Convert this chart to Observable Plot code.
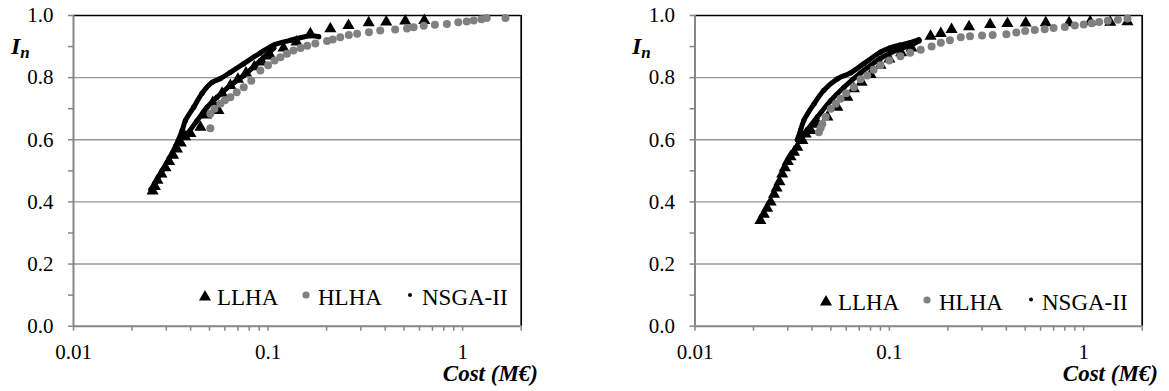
<!DOCTYPE html>
<html><head><meta charset="utf-8">
<script src="https://cdn.jsdelivr.net/npm/d3@7"></script>
<script src="https://cdn.jsdelivr.net/npm/@observablehq/plot@0.6"></script>
<style>
body{margin:0;background:#fff;}
#wrap{position:relative;width:1169px;height:391px;overflow:hidden;}
.panel{position:absolute;top:0;}
#overlay{position:absolute;left:0;top:0;pointer-events:none;}
</style></head>
<body><div id="wrap"></div>
<script>
// ---------- data ----------
const yTicks = [0,0.1,0.2,0.3,0.4,0.5,0.6,0.7,0.8,0.9,1.0];
const yGrid = [0.2,0.4,0.6,0.8];
const xTicks = [0.01,0.02,0.03,0.04,0.05,0.06,0.07,0.08,0.09,0.1,0.2,0.3,0.4,0.5,0.6,0.7,0.8,0.9,1,2];
const xLabelValues = [0.01,0.1,1];
const xLabelText = ["0.01","0.1","1"];
const seriesNames = ["LLHA","HLHA","NSGA-II"];

// Left panel
const llhaCostA = [0.0255,0.0262,0.027,0.0283,0.0297,0.031,0.0325,0.034,0.0356,0.0375,0.0399,0.0449,0.048,0.052,0.0556,0.058,0.064,0.070,0.077,0.085,0.093,0.103,0.120,0.140,0.165,0.209,0.259,0.329,0.405,0.507,0.635];
const llhaInA   = [0.435,0.45,0.47,0.49,0.51,0.53,0.55,0.57,0.59,0.61,0.62,0.64,0.68,0.72,0.694,0.75,0.775,0.795,0.815,0.835,0.85,0.87,0.895,0.915,0.941,0.957,0.968,0.977,0.979,0.982,0.984];
const hlhaCostA = [0.0505,0.0505,0.053,0.0569,0.060,0.064,0.069,0.075,0.082,0.0913,0.10,0.108,0.1157,0.125,0.135,0.147,0.159,0.175,0.201,0.215,0.235,0.26,0.287,0.33,0.377,0.45,0.518,0.56,0.631,0.72,0.83,0.95,1.05,1.14,1.25,1.33,1.66];
const hlhaInA   = [0.637,0.684,0.70,0.716,0.727,0.737,0.753,0.769,0.79,0.823,0.84,0.855,0.866,0.877,0.887,0.895,0.903,0.91,0.918,0.923,0.93,0.937,0.941,0.946,0.952,0.955,0.958,0.962,0.967,0.970,0.973,0.978,0.981,0.984,0.988,0.992,0.992];
const nsgaOuterCostA = [0.0250,0.0262,0.0285,0.031,0.0335,0.0362,0.0376,0.0415,0.0458,0.0516,0.0569,0.064,0.075,0.0913,0.107,0.130,0.165,0.182];
const nsgaOuterInA   = [0.44,0.46,0.50,0.54,0.58,0.63,0.662,0.705,0.75,0.785,0.797,0.817,0.845,0.88,0.905,0.92,0.935,0.932];
const nsgaInnerCostA = [0.0362,0.0376,0.0432,0.0486,0.0547,0.064,0.075,0.0913,0.107];
const nsgaInnerInA   = [0.61,0.614,0.662,0.705,0.737,0.775,0.807,0.855,0.895];

// Right panel
const llhaCostB = [0.0217,0.0226,0.0235,0.0245,0.0255,0.0263,0.0272,0.0281,0.029,0.030,0.031,0.0323,0.0336,0.0357,0.0371,0.0394,0.043,0.048,0.054,0.0608,0.0657,0.072,0.080,0.090,0.100,0.115,0.130,0.163,0.184,0.209,0.257,0.330,0.405,0.503,0.638,0.841,1.08,1.37,1.68];
const llhaInB   = [0.34,0.36,0.38,0.40,0.425,0.445,0.465,0.49,0.51,0.53,0.545,0.56,0.576,0.598,0.619,0.63,0.65,0.673,0.705,0.737,0.764,0.785,0.81,0.84,0.86,0.88,0.895,0.933,0.942,0.955,0.964,0.971,0.974,0.976,0.977,0.977,0.98,0.978,0.98];
const hlhaCostB = [0.0434,0.0443,0.0452,0.047,0.050,0.053,0.0561,0.060,0.0657,0.0711,0.077,0.083,0.090,0.100,0.114,0.128,0.145,0.165,0.184,0.205,0.233,0.26,0.30,0.34,0.40,0.45,0.50,0.56,0.63,0.70,0.80,0.90,1.0,1.1,1.2,1.33,1.5,1.68];
const hlhaInB   = [0.624,0.638,0.651,0.673,0.70,0.716,0.732,0.75,0.769,0.795,0.807,0.825,0.84,0.855,0.869,0.88,0.89,0.90,0.912,0.92,0.93,0.933,0.936,0.937,0.94,0.945,0.95,0.953,0.956,0.96,0.963,0.968,0.971,0.975,0.979,0.983,0.986,0.99];
const nsgaOuterCostB = [0.0336,0.0349,0.0363,0.041,0.046,0.054,0.063,0.074,0.09,0.10,0.114,0.128,0.142];
const nsgaOuterInB   = [0.600,0.630,0.662,0.716,0.759,0.796,0.815,0.845,0.882,0.895,0.905,0.913,0.922];
const nsgaInnerCostB = [0.0349,0.0426,0.0499,0.0584,0.0711,0.09,0.10,0.114,0.13,0.142];
const nsgaInnerInB   = [0.603,0.673,0.726,0.769,0.815,0.862,0.878,0.893,0.905,0.918];

// ---------- helpers ----------
const rows = (xs, ys) => xs.map((c, i) => ({cost: c, In: ys[i]}));
const GRAY = "#808080", AXIS = "#868686", GRID = "#969696";

function panel({width, ml, mr, llha, hlha, outer, inner}) {
  return Plot.plot({
    width, height: 391,
    marginLeft: ml, marginRight: mr, marginTop: 15, marginBottom: 65.3,
    x: {type: "log", domain: [0.01, 2]},
    y: {domain: [0, 1]},
    style: {fontFamily: "'Liberation Serif','Times New Roman',serif", fontSize: "21px", color: "#000", background: "transparent", overflow: "visible"},
    marks: [
      Plot.gridY(yGrid, {stroke: GRID, strokeOpacity: 1, strokeWidth: 1.4}),
      Plot.ruleY([1], {stroke: "#000", strokeWidth: 1.7}),
      Plot.ruleX([2], {stroke: "#000", strokeWidth: 1.7}),
      Plot.ruleX([0.01], {stroke: AXIS, strokeWidth: 2}),
      Plot.ruleY([0], {stroke: AXIS, strokeWidth: 2}),
      Plot.axisY(yTicks, {tickSize: 5, tickPadding: 15, stroke: AXIS, strokeWidth: 1.5, fill: "#000",
        tickFormat: d => (Math.round(d * 10) % 2 === 0 ? d.toFixed(1) : ""), label: null}),
      Plot.axisX(xTicks, {tickSize: 5, tickPadding: 13, stroke: AXIS, strokeWidth: 1.5, fill: "#000",
        tickFormat: d => { const k = xLabelValues.indexOf(d); return k >= 0 ? xLabelText[k] : ""; }, label: null}),
      Plot.dot(llha, {x: "cost", y: "In", symbol: "triangle", r: 4.5, fill: "#000"}),
      Plot.line(outer, {x: "cost", y: "In", stroke: "#000", strokeWidth: 5, strokeLinecap: "round", strokeLinejoin: "round", curve: "catmull-rom"}),
      Plot.line(inner, {x: "cost", y: "In", stroke: "#000", strokeWidth: 5, strokeLinecap: "round", strokeLinejoin: "round", curve: "catmull-rom"}),
      Plot.dot(outer, {x: "cost", y: "In", r: 2.6, fill: "#000"}),
      Plot.dot(inner, {x: "cost", y: "In", r: 2.6, fill: "#000"}),
      Plot.dot(hlha, {x: "cost", y: "In", r: 4, fill: GRAY})
    ]
  });
}

const wrap = document.getElementById("wrap");
const left = panel({width: 584, ml: 73, mr: 63.3,
  llha: rows(llhaCostA, llhaInA), hlha: rows(hlhaCostA, hlhaInA),
  outer: rows(nsgaOuterCostA, nsgaOuterInA), inner: rows(nsgaInnerCostA, nsgaInnerInA)});
left.classList.add("panel"); left.style.left = "0px";
wrap.appendChild(left);
const right = panel({width: 585, ml: 110.5, mr: 27.3,
  llha: rows(llhaCostB, llhaInB), hlha: rows(hlhaCostB, hlhaInB),
  outer: rows(nsgaOuterCostB, nsgaOuterInB), inner: rows(nsgaInnerCostB, nsgaInnerInB)});
right.classList.add("panel"); right.style.left = "584px";
wrap.appendChild(right);

// ---------- overlay: axis titles and legends ----------
const svg = d3.select(wrap).append("svg").attr("id", "overlay")
  .attr("width", 1169).attr("height", 391)
  .style("font-family", "'Liberation Serif','Times New Roman',serif");

function yTitle(x, y) {
  const t = svg.append("text").attr("x", x).attr("y", y)
    .attr("font-size", 24).attr("font-weight", "bold").attr("font-style", "italic");
  t.append("tspan").text("I");
  t.append("tspan").attr("font-size", 17).attr("dy", 4).text("n");
}
function xTitle(xEnd, y) {
  svg.append("text").attr("x", xEnd).attr("y", y).attr("text-anchor", "end")
    .attr("font-size", 23).attr("font-weight", "bold").attr("font-style", "italic")
    .text("Cost (M\u20AC)");
}
const tri = d3.symbol(d3.symbolTriangle, Math.PI * 4.5 * 4.5)();
function legend(items, base) {
  // items: [symbolX, symbolY, textX] for each series
  items.forEach((it, i) => {
    const [sx, sy, tx] = it;
    if (i === 0) svg.append("path").attr("d", tri).attr("transform", `translate(${sx},${sy})`).attr("fill", "#000");
    if (i === 1) svg.append("circle").attr("cx", sx).attr("cy", sy).attr("r", 3.6).attr("fill", GRAY);
    if (i === 2) svg.append("circle").attr("cx", sx).attr("cy", sy).attr("r", 2).attr("fill", "#000");
    svg.append("text").attr("x", tx).attr("y", base).attr("font-size", 23).text(seriesNames[i]);
  });
}
yTitle(11, 54);
yTitle(632, 54);
xTitle(538, 381);
xTitle(1158, 381);
legend([[205, 297, 217], [306, 295, 318], [410, 295, 422]], 305);
legend([[826, 302, 838], [927, 300, 939], [1031, 299.5, 1042]], 309.5);
</script>
</body></html>
